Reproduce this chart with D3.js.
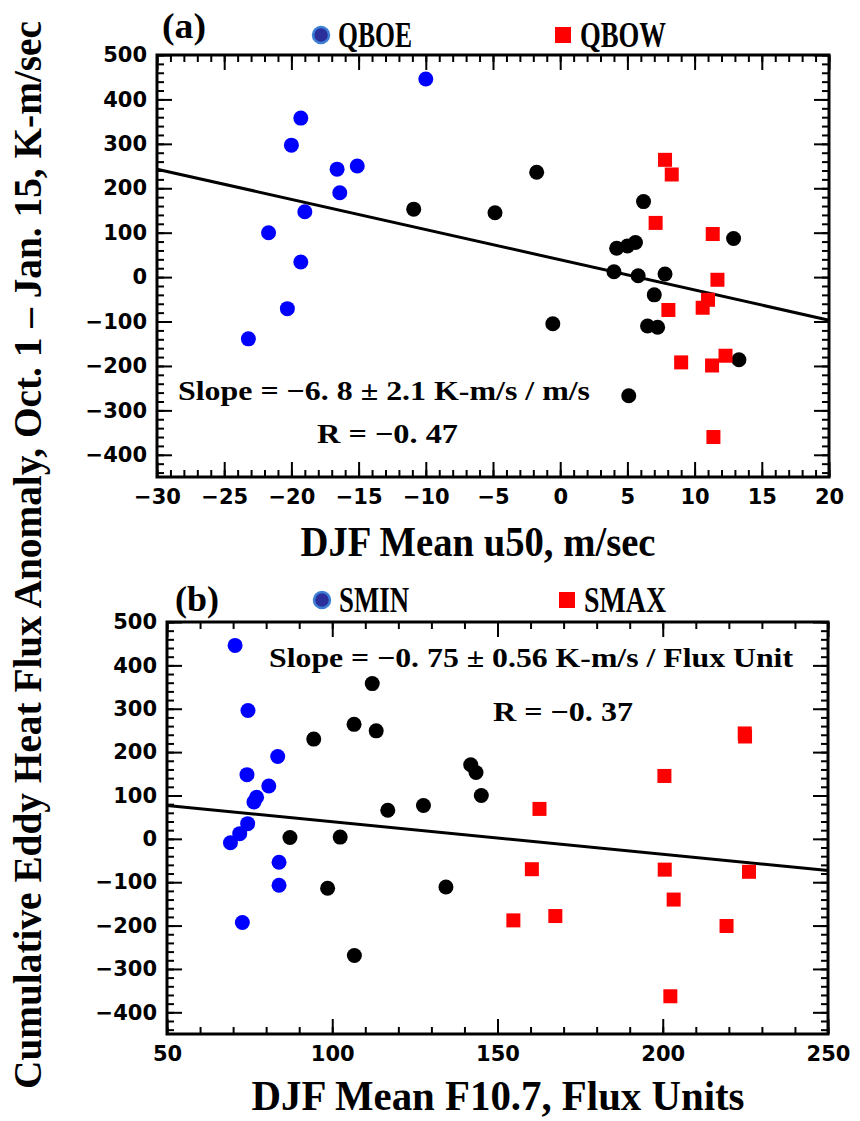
<!DOCTYPE html>
<html>
<head>
<meta charset="utf-8">
<script src="https://cdn.jsdelivr.net/npm/d3@7"></script>
<style>
  body { margin: 0; background: #fff; }
  .tick text { font-family: "DejaVu Sans", sans-serif; font-weight: bold; font-size: 21px; fill: #000; }
  .serif { font-family: "Liberation Serif", "Times New Roman", serif; font-weight: bold; fill: #000; }
</style>
</head>
<body>
<svg id="chart" width="860" height="1121"></svg>
<script>
// ---- Panel (a): heat flux vs DJF mean u50, grouped by QBO phase ----
const qboeU     = [-10.0, -19.3, -20.0, -16.6, -15.1, -16.4, -19.0, -21.7, -19.3, -20.3, -23.2];
const qboeFlux  = [446, 358, 297, 243, 250, 190, 147, 100, 34, -71, -139];
const qbowU     = [7.8, 8.3, 7.1, 11.35, 11.7, 11.0, 10.6, 8.05, 9.0, 11.3, 12.3, 11.4];
const qbowFlux  = [264, 231, 122, 97, -6, -51, -69, -74, -192, -199, -177, -360];
const otherU    = [-10.9, -4.85, -1.75, 6.2, 12.9, 4.2, 5.0, 5.6, 4.0, 5.8, 7.8, 7.0, -0.55, 6.5, 7.25, 13.3, 5.1];
const otherFluxA = [153, 145, 236, 170, 87, 65, 70, 78, 12, 3, 7, -40, -105, -110, -113, -186, -267];
const slopeA = -6.8, interceptA = 39;

// ---- Panel (b): heat flux vs DJF mean F10.7, grouped by solar phase ----
const sminF     = [70.6, 74.5, 83.5, 74.2, 80.8, 77.1, 76.3, 74.4, 72.0, 69.2, 83.9, 83.9, 72.8];
const sminFlux  = [446, 296, 190, 148, 122, 96, 85, 35, 12, -9, -54, -107, -193];
const smaxF     = [224.8, 224.9, 200.5, 162.7, 160.4, 200.6, 226.1, 203.3, 167.5, 154.8, 219.3, 202.3];
const smaxFlux  = [243, 236, 145, 69, -70, -71, -76, -140, -178, -188, -201, -363];
const otherF    = [112.1, 106.6, 113.3, 94.4, 141.9, 143.5, 145.1, 127.6, 116.8, 87.2, 102.4, 98.6, 134.4, 106.7];
const otherFluxB = [358, 264, 249, 230, 171, 153, 100, 77, 66, 3, 4, -114, -111, -269];
const slopeB = -0.75, interceptB = 114.5;

// ---- Axis ticks ----
const yMajor = [-400, -300, -200, -100, 0, 100, 200, 300, 400, 500];
const yMinor = d3.range(-440, 501, 20);
const xMajorA = [-30, -25, -20, -15, -10, -5, 0, 5, 10, 15, 20];
const xMinorA = d3.range(-30, 21, 1);
const xMajorB = [50, 100, 150, 200, 250];
const xMinorB = d3.range(50, 251, 10);

const svg = d3.select("#chart");
const zip = (xs, ys) => xs.map((v, i) => [v, ys[i]]);

function panel(cfg) {
  const x = d3.scaleLinear().domain(cfg.xDomain).range([cfg.left, cfg.right]);
  const y = d3.scaleLinear().domain([-450, 500]).range([cfg.bottom, cfg.top]);
  const g = svg.append("g");
  const w = cfg.right - cfg.left, h = cfg.bottom - cfg.top;

  const styleAxis = sel => {
    sel.select(".domain").remove();
    sel.selectAll(".tick line").attr("stroke", "#000").attr("stroke-width", 2);
  };
  // minor ticks on all four sides
  g.append("g").attr("transform", `translate(0,${cfg.bottom})`)
    .call(d3.axisBottom(x).tickValues(cfg.xMinor).tickSize(-7).tickFormat("")).call(styleAxis);
  g.append("g").attr("transform", `translate(0,${cfg.top})`)
    .call(d3.axisTop(x).tickValues(cfg.xMinor).tickSize(-7).tickFormat("")).call(styleAxis);
  g.append("g").attr("transform", `translate(${cfg.left},0)`)
    .call(d3.axisLeft(y).tickValues(yMinor).tickSize(-7).tickFormat("")).call(styleAxis);
  g.append("g").attr("transform", `translate(${cfg.right},0)`)
    .call(d3.axisRight(y).tickValues(yMinor).tickSize(-7).tickFormat("")).call(styleAxis);
  // major ticks with labels on bottom and left
  g.append("g").attr("transform", `translate(0,${cfg.bottom})`)
    .call(d3.axisBottom(x).tickValues(cfg.xMajor).tickSizeInner(-15).tickPadding(12)).call(styleAxis);
  g.append("g").attr("transform", `translate(0,${cfg.top})`)
    .call(d3.axisTop(x).tickValues(cfg.xMajor).tickSize(-15).tickFormat("")).call(styleAxis);
  g.append("g").attr("transform", `translate(${cfg.left},0)`)
    .call(d3.axisLeft(y).tickValues(yMajor).tickSizeInner(-15).tickPadding(10)).call(styleAxis);
  g.append("g").attr("transform", `translate(${cfg.right},0)`)
    .call(d3.axisRight(y).tickValues(yMajor).tickSize(-15).tickFormat("")).call(styleAxis);

  // frame
  g.append("rect").attr("x", cfg.left).attr("y", cfg.top).attr("width", w).attr("height", h)
    .attr("fill", "none").attr("stroke", "#000").attr("stroke-width", 3);

  // regression line
  const [x0, x1] = cfg.xDomain;
  g.append("line")
    .attr("x1", x(x0)).attr("y1", y(cfg.intercept + cfg.slope * x0))
    .attr("x2", x(x1)).attr("y2", y(cfg.intercept + cfg.slope * x1))
    .attr("stroke", "#000").attr("stroke-width", 3);

  // points
  g.append("g").selectAll("circle").data(cfg.other).join("circle")
    .attr("cx", d => x(d[0])).attr("cy", d => y(d[1])).attr("r", 7.5).attr("fill", "#000");
  g.append("g").selectAll("circle").data(cfg.blue).join("circle")
    .attr("cx", d => x(d[0])).attr("cy", d => y(d[1])).attr("r", 7.5).attr("fill", "#0000ff");
  g.append("g").selectAll("rect").data(cfg.red).join("rect")
    .attr("x", d => x(d[0]) - 7).attr("y", d => y(d[1]) - 7).attr("width", 14).attr("height", 14)
    .attr("fill", "#ff0000");

  // statistics
  g.append("text").attr("class", "serif").attr("x", cfg.slopePos[0]).attr("y", cfg.slopePos[1])
    .attr("font-size", 27).attr("textLength", cfg.slopeLen).attr("lengthAdjust", "spacingAndGlyphs")
    .text(cfg.slopeText);
  g.append("text").attr("class", "serif").attr("x", cfg.rPos[0]).attr("y", cfg.rPos[1])
    .attr("font-size", 27).attr("textLength", cfg.rLen).attr("lengthAdjust", "spacingAndGlyphs")
    .text(cfg.rText);

  // panel letter and legend
  g.append("text").attr("class", "serif").attr("x", cfg.letterPos[0]).attr("y", cfg.letterPos[1])
    .attr("font-size", 36).attr("textLength", cfg.letterLen).attr("lengthAdjust", "spacingAndGlyphs")
    .text(cfg.letter);
  g.append("circle").attr("cx", cfg.leg1[0]).attr("cy", cfg.leg1[1]).attr("r", 8)
    .attr("fill", "#2b2f9c").attr("stroke", "#3d7fd6").attr("stroke-width", 2.5);
  g.append("text").attr("class", "serif").attr("x", cfg.leg1[0] + 17).attr("y", cfg.leg1[1] + 12)
    .attr("font-size", 35).attr("textLength", cfg.leg1Len).attr("lengthAdjust", "spacingAndGlyphs")
    .text(cfg.leg1Text);
  g.append("rect").attr("x", cfg.leg2[0] - 8).attr("y", cfg.leg2[1] - 8).attr("width", 16).attr("height", 16)
    .attr("fill", "#ff0000");
  g.append("text").attr("class", "serif").attr("x", cfg.leg2[0] + 17).attr("y", cfg.leg2[1] + 12)
    .attr("font-size", 35).attr("textLength", cfg.leg2Len).attr("lengthAdjust", "spacingAndGlyphs")
    .text(cfg.leg2Text);

  // x-axis title
  g.append("text").attr("class", "serif").attr("x", cfg.xTitlePos[0]).attr("y", cfg.xTitlePos[1])
    .attr("text-anchor", "middle").attr("font-size", 42)
    .attr("textLength", cfg.xTitleLen).attr("lengthAdjust", "spacingAndGlyphs")
    .text(cfg.xTitle);
}

panel({
  xDomain: [-30, 20], left: 157, right: 829, top: 55, bottom: 477,
  xMajor: xMajorA, xMinor: xMinorA,
  slope: slopeA, intercept: interceptA,
  other: zip(otherU, otherFluxA), blue: zip(qboeU, qboeFlux), red: zip(qbowU, qbowFlux),
  slopeText: "Slope = \u22126. 8 \u00b1 2.1 K-m/s / m/s", slopePos: [178, 400], slopeLen: 412,
  rText: "R = \u22120. 47", rPos: [317, 443], rLen: 141,
  letter: "(a)", letterPos: [162, 38], letterLen: 44,
  leg1: [321, 35], leg1Text: "QBOE", leg1Len: 74,
  leg2: [563, 35], leg2Text: "QBOW", leg2Len: 86,
  xTitle: "DJF Mean u50, m/sec", xTitlePos: [478, 556], xTitleLen: 355
});

panel({
  xDomain: [50, 250], left: 167, right: 828, top: 622, bottom: 1034,
  xMajor: xMajorB, xMinor: xMinorB,
  slope: slopeB, intercept: interceptB,
  other: zip(otherF, otherFluxB), blue: zip(sminF, sminFlux), red: zip(smaxF, smaxFlux),
  slopeText: "Slope = \u22120. 75 \u00b1 0.56 K-m/s / Flux Unit", slopePos: [269, 667], slopeLen: 524,
  rText: "R = \u22120. 37", rPos: [493, 721], rLen: 140,
  letter: "(b)", letterPos: [175, 611], letterLen: 44,
  leg1: [322, 600], leg1Text: "SMIN", leg1Len: 70,
  leg2: [567, 600], leg2Text: "SMAX", leg2Len: 82,
  xTitle: "DJF Mean F10.7, Flux Units", xTitlePos: [498, 1110], xTitleLen: 493
});

// shared y-axis title, drawn at a size whose natural length fits the page height
// and then stretched slightly across the page for its tall, heavy look
svg.append("text").attr("class", "serif")
  .attr("transform", "translate(41,555) rotate(-90) scale(1,1.12)")
  .attr("text-anchor", "middle").attr("font-size", 35)
  .attr("textLength", 1068).attr("lengthAdjust", "spacingAndGlyphs")
  .text("Cumulative Eddy Heat Flux Anomaly, Oct. 1 \u2013 Jan. 15, K-m/sec");
</script>
</body>
</html>
